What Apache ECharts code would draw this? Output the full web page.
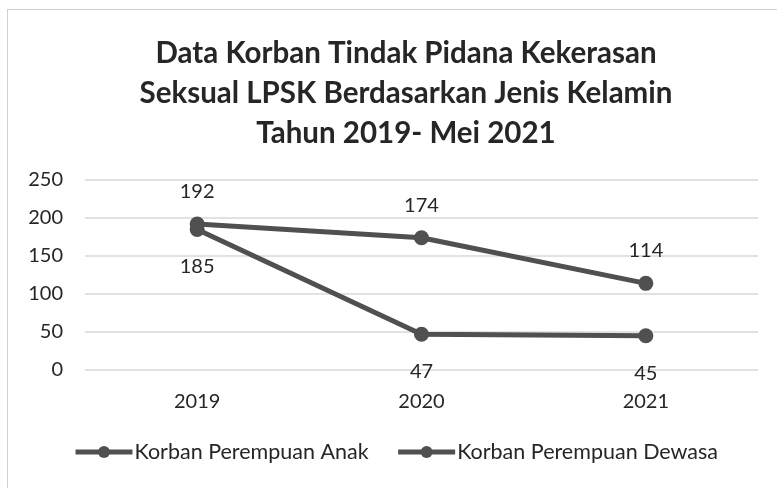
<!DOCTYPE html>
<html>
<head>
<meta charset="utf-8">
<script src="https://cdn.jsdelivr.net/npm/echarts@6/dist/echarts.min.js"></script>
<style>
  html, body { margin: 0; padding: 0; background: #fff; }
  #chart { width: 777px; height: 488px; }
  .frame { position: absolute; left: 7px; top: 9px; width: 800px; height: 500px; border: 1px solid #d0d0d0; box-sizing: border-box; pointer-events: none; }
</style>
</head>
<body>
<div id="chart"></div>
<div class="frame"></div>
<script>
// data
const years = ['2019', '2020', '2021'];
const anak = [192, 174, 114];
const dewasa = [185, 47, 45];
const yTicks = [0, 50, 100, 150, 200, 250];

const chart = echarts.init(document.getElementById('chart'));
const font = 'Lato, "Open Sans", sans-serif';
const lineColor = '#505050';
const textColor = '#262626';

const option = {
  animation: false,
  title: {
    text: 'Data Korban Tindak Pidana Kekerasan\nSeksual LPSK Berdasarkan Jenis Kelamin\nTahun 2019- Mei 2021',
    left: 401,
    top: 28,
    textAlign: 'center',
    textStyle: {
      fontFamily: font,
      fontSize: 29.5,
      fontWeight: 'bold',
      color: textColor,
      lineHeight: 40
    }
  },
  grid: { left: 85, right: 19, top: 180, bottom: 118 },
  legend: {
    bottom: 20,
    left: 68,
    itemWidth: 57,
    itemHeight: 15,
    itemGap: 27,
    lineStyle: { width: 5 },
    textStyle: { fontFamily: font, fontSize: 21.5, color: textColor, padding: [0, 0, 0, -3] },
    data: ['Korban Perempuan Anak', 'Korban Perempuan Dewasa']
  },
  xAxis: {
    type: 'category',
    data: years,
    boundaryGap: true,
    axisLine: { show: false },
    axisTick: { show: false },
    axisLabel: { fontFamily: font, fontSize: 20, color: textColor, margin: 22 }
  },
  yAxis: {
    type: 'value',
    min: yTicks[0],
    max: yTicks[yTicks.length - 1],
    interval: 50,
    axisLine: { show: false },
    axisTick: { show: false },
    splitLine: { lineStyle: { color: '#d9d9d9', width: 1.5 } },
    axisLabel: { fontFamily: font, fontSize: 20, color: textColor, margin: 22 }
  },
  series: [
    {
      name: 'Korban Perempuan Anak',
      type: 'line',
      data: anak,
      symbol: 'circle',
      symbolSize: 15,
      z: 3,
      lineStyle: { color: lineColor, width: 5 },
      itemStyle: { color: lineColor },
      label: { show: true, position: 'top', distance: 15, fontFamily: font, fontSize: 20, color: textColor }
    },
    {
      name: 'Korban Perempuan Dewasa',
      type: 'line',
      data: dewasa,
      symbol: 'circle',
      symbolSize: 15,
      lineStyle: { color: lineColor, width: 5 },
      itemStyle: { color: lineColor },
      label: { show: true, position: 'bottom', distance: 20, fontFamily: font, fontSize: 20, color: textColor }
    }
  ]
};

chart.setOption(option);
</script>
</body>
</html>
